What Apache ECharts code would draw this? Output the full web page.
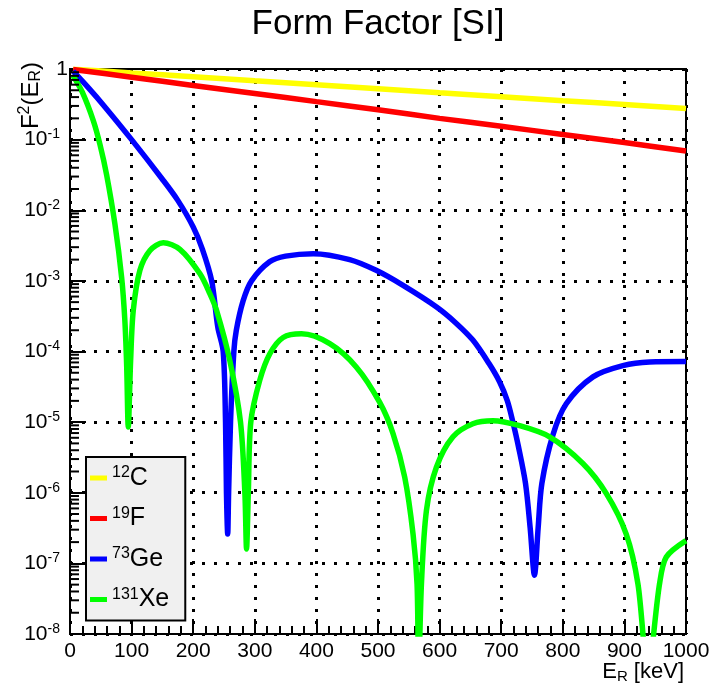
<!DOCTYPE html>
<html><head><meta charset="utf-8">
<script src="https://cdn.jsdelivr.net/npm/echarts@6/dist/echarts.min.js"></script>
<style>html,body{margin:0;padding:0;background:#fff}#c{width:713px;height:690px}</style>
</head><body><div id="c"></div>
<script>
const FONT = '"Liberation Sans", Arial, Helvetica, sans-serif';

const titleText = 'Form Factor [SI]';
const seriesNames = ['12C', '19F', '73Ge', '131Xe'];
const massNumbers = ['12', '19', '73', '131'];
const elements = ['C', 'F', 'Ge', 'Xe'];
const colors = ['#ffff00', '#ff0000', '#0000ff', '#00ff00'];

// x axis
const xMin = 0, xMax = 1000, xStep = 100;
// y axis (log)
const yMin = 1e-8, yMax = 1;

// 12C
const cE = [5, 100, 200, 300, 400, 500, 600, 700, 800, 900, 1000];
const cF = [0.994, 0.88, 0.775, 0.68, 0.6, 0.525, 0.46, 0.405, 0.355, 0.315, 0.275];
// 19F
const fE = [5, 100, 200, 300, 400, 500, 600, 700, 800, 900, 1000];
const fF = [0.987, 0.765, 0.585, 0.45, 0.345, 0.265, 0.2, 0.155, 0.118, 0.091, 0.069];
// 73Ge
const geE = [5, 30, 54, 100, 150, 175, 200, 215, 230, 240, 248.7, 252.5, 254, 256, 257.5, 260.6, 266, 270, 281, 294.7,
  324, 350, 395, 454, 497, 540, 595, 625, 654, 680, 697.5, 710, 719, 728, 739.5, 747, 754, 760, 766, 784, 805.6, 849, 897.5, 941, 1000];
const geF = [0.93, 0.54, 0.31, 0.1, 0.0275, 0.0138, 5.8e-3, 2.8e-3, 1e-3, 2.2e-4, 1e-4, 1e-5, 1e-6, 2.6e-7, 1e-6, 1e-5, 1e-4, 2.0e-4, 5.2e-4, 1e-3,
  1.86e-3, 2.24e-3, 2.43e-3, 2.0e-3, 1.41e-3, 8.7e-4, 4.27e-4, 2.6e-4, 1.45e-4, 6.8e-5, 3.7e-5, 2e-5, 1e-5, 4.5e-6, 1.35e-6, 3.2e-7, 6.8e-8, 3.2e-7, 1.35e-6, 6.6e-6, 1.82e-5, 4.37e-5, 6.3e-5, 7.1e-5, 7.2e-5];
// 131Xe
const xeE = [5, 20, 37.8, 48.7, 59.5, 73, 83.8, 89, 92, 94.6, 98.4, 102.7, 113.5, 129.8, 151.4, 178.4, 211, 227, 238, 259.5,
  276.8, 283.9, 286.6, 289.5, 293.5, 308, 324.4, 346, 375.8, 421.7, 465, 502.8, 524.4, 543.4, 556.9, 563.4, 566, 570.5, 578.6, 594.8,
  621.7, 654, 686.6, 730, 778.6, 832.6, 870.5, 903, 922, 938, 957, 968, 1000];
const xeF = [0.8, 0.47, 0.186, 0.085, 0.0316, 6.3e-3, 1.12e-3, 2.8e-4, 6.3e-5, 8.5e-6, 7.4e-5, 3.8e-4, 1.41e-3, 2.7e-3, 3.47e-3, 2.8e-3, 1.26e-3, 6.6e-4, 3.8e-4, 7.4e-5,
  1e-5, 1e-6, 1.6e-7, 1e-6, 1e-5, 3.9e-5, 9.3e-5, 1.58e-4, 1.78e-4, 1.29e-4, 6.0e-5, 1.9e-5, 6.9e-6, 1.66e-6, 2.6e-7, 5.1e-8, 3e-9, 5.1e-8, 5.6e-7, 2.3e-6,
  6.2e-6, 9.5e-6, 1.05e-5, 8.9e-6, 6.2e-6, 2.6e-6, 9.8e-7, 2.6e-7, 5.1e-8, 3e-9, 5.1e-8, 1.23e-7, 2.1e-7];

const allE = [cE, fE, geE, xeE];
const allF = [cF, fF, geF, xeF];

// minor tick values of the log axis (2..9 within each decade)
const yMinorTicks = [];
for (let d = -8; d < 0; d++) for (let k = 2; k <= 9; k++) yMinorTicks.push(k * Math.pow(10, d));

const chart = echarts.init(document.getElementById('c'), null, {renderer: 'canvas'});

const lineSeries = seriesNames.map((n, i) => ({
  name: n, type: 'line', showSymbol: false, symbol: 'none', clip: true,
  smooth: 0.3,
  color: colors[i],
  lineStyle: {color: colors[i], width: 5.5, join: 'bevel', cap: 'butt'},
  data: allE[i].map((e, j) => [e, allF[i][j]]),
  z: 3 + i
}));

const minorTickSeries = {
  type: 'custom', name: 'yMinor', silent: true, clip: false, z: 10,
  data: yMinorTicks.map(v => [0, v]),
  renderItem: function (params, api) {
    const p = api.coord([api.value(0), api.value(1)]);
    return {type: 'line', shape: {x1: p[0], y1: p[1], x2: p[0] + 9, y2: p[1]},
      style: {stroke: '#000', lineWidth: 2}};
  }
};

const gridDots = {color: '#000', width: 3, type: [3, 9]};

chart.setOption({
  animation: false,
  backgroundColor: '#fff',
  textStyle: {fontFamily: FONT, color: '#000'},
  grid: {left: 70, top: 69, width: 616, height: 565, show: true, borderColor: '#000', borderWidth: 2, backgroundColor: 'transparent'},
  graphic: [
    {type: 'text', x: 378, y: 24, z: 50,
      style: {text: titleText, align: 'center', verticalAlign: 'middle', fontSize: 35, fontFamily: FONT, fill: '#000'}},
    {type: 'text', x: 31, y: 62, rotation: Math.PI / 2, z: 50,
      style: {text: '{b|F}{s|2}{b|(E}{u|R}{b|)}', align: 'right', verticalAlign: 'middle',
        rich: {
          b: {fontSize: 24, fontFamily: FONT, fill: '#000'},
          s: {fontSize: 16, fontFamily: FONT, fill: '#000', padding: [0, 0, 12, 0]},
          u: {fontSize: 16, fontFamily: FONT, fill: '#000', padding: [10, 0, 0, 0]}
        }}},
    {type: 'text', x: 684, y: 672, z: 50,
      style: {text: '{b|E}{u|R}{b| [keV]}', align: 'right', verticalAlign: 'middle',
        rich: {
          b: {fontSize: 22, fontFamily: FONT, fill: '#000'},
          u: {fontSize: 15, fontFamily: FONT, fill: '#000', padding: [9, 0, 0, 0]}
        }}}
  ],
  legend: {
    data: seriesNames, orient: 'vertical', left: 86, top: 457,
    icon: 'rect', itemWidth: 17, itemHeight: 5, itemGap: 14.5,
    padding: [8, 16, 8, 4],
    backgroundColor: '#f0f0f0', borderColor: '#000', borderWidth: 2, borderRadius: 0,
    selectedMode: false,
    formatter: function (name) {
      const i = seriesNames.indexOf(name);
      return '{s|' + massNumbers[i] + '}{b|' + elements[i] + '}';
    },
    textStyle: {
      lineHeight: 26,
      rich: {
        b: {fontSize: 25, fontFamily: FONT, color: '#000', lineHeight: 26},
        s: {fontSize: 16, fontFamily: FONT, color: '#000', padding: [0, 0, 10, 0]}
      }
    }
  },
  xAxis: {
    type: 'value', min: xMin, max: xMax, interval: xStep,
    axisLine: {show: true, lineStyle: {color: '#000', width: 2}},
    axisTick: {show: true, inside: true, length: 15, lineStyle: {color: '#000', width: 2}},
    minorTick: {show: true, splitNumber: 5, length: 8, lineStyle: {color: '#000', width: 2}},
    axisLabel: {color: '#000', fontSize: 21, fontFamily: FONT, margin: 7,
      formatter: function (v) { return String(v); }},
    splitLine: {show: true, lineStyle: gridDots}
  },
  yAxis: {
    type: 'log', logBase: 10, min: yMin, max: yMax, splitNumber: 8,
    axisLine: {show: true, lineStyle: {color: '#000', width: 2}},
    axisTick: {show: true, inside: true, length: 16, lineStyle: {color: '#000', width: 2}},
    axisLabel: {
      color: '#000', margin: 2,
      formatter: function (v) {
        const e = Math.round(Math.log10(v));
        return e === 0 ? '{one|1}' : '{b|10}{s|' + e + '}';
      },
      rich: {
        one: {fontSize: 21, fontFamily: FONT, color: '#000'},
        b: {fontSize: 21, fontFamily: FONT, color: '#000'},
        s: {fontSize: 14, fontFamily: FONT, color: '#000', padding: [0, 8, 10, 0]}
      }
    },
    splitLine: {show: true, lineStyle: gridDots}
  },
  series: lineSeries.concat([minorTickSeries])
});
</script>
</body></html>
